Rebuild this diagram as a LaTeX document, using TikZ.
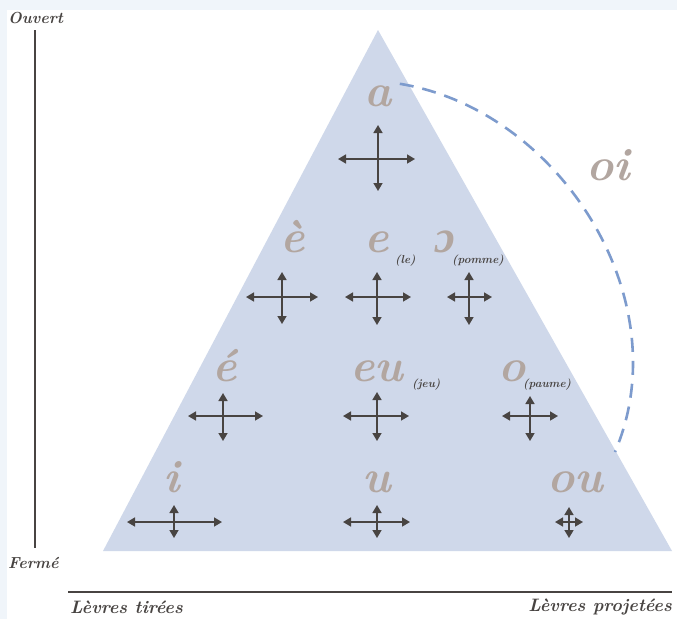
\documentclass[tikz,border=0pt]{standalone}
\usepackage{fontspec}
\newfontfamily\ipafont{Liberation Serif}
\usepackage{tikz}
\usetikzlibrary{arrows.meta,positioning}

\definecolor{framecol}{RGB}{240,245,250}
\definecolor{trifill}{RGB}{207,216,234}
\definecolor{vowelcol}{RGB}{178,166,160}
\definecolor{inkcol}{RGB}{72,68,66}
\definecolor{dashcol}{RGB}{125,155,205}

\begin{document}
\begin{tikzpicture}[x=1pt, y=-1pt,
    vowel/.style={font=\fontsize{46}{46}\selectfont\bfseries\itshape, text=vowelcol, inner sep=0pt, anchor=base},
    example/.style={font=\fontsize{11.5}{11.5}\selectfont\bfseries\itshape, text=inkcol, inner sep=0pt, anchor=base west},
    axislabel/.style={font=\fontsize{16}{16}\selectfont\bfseries\itshape, text=inkcol, inner sep=0pt},
    lipslabel/.style={axislabel, font=\fontsize{18}{18}\selectfont\bfseries\itshape},
    lips/.style={{Triangle[width=9pt,length=8pt]}-{Triangle[width=9pt,length=8pt]}, draw=inkcol, line width=1.6pt}]

% Frame
\useasboundingbox (0,0) rectangle (677,619);
\fill[framecol] (0,0) rectangle (677,619);
\fill[white] (7,10) rectangle (677,619);

% Triangle
\fill[trifill] (378,30) -- (672,551) -- (103,551) -- cycle;

% Axes
\draw[inkcol, line width=2.2pt] (35,30) -- (35,548);
\draw[inkcol, line width=2.6pt] (68,592) -- (672,592);
\node[axislabel, anchor=west] (open) at (8,18) {Ouvert};
\node[axislabel, anchor=west] (closed) at (8,563) {Fermé};
\node[lipslabel, anchor=west] (spread) at (70,607) {Lèvres tirées};
\node[lipslabel, anchor=east] (round) at (672,607) {Lèvres projetées};

% Vowels
\node[vowel] (va) at (378,106) {a};
\node[vowel] (vegrave) at (293,252) {è};
\node[vowel] (ve) at (377,252) {e};
\node[vowel] (vopen) at (445,252) {\ipafont\bfseries\itshape ɔ};
\node[vowel] (veacute) at (225,381) {é};
\node[vowel] (veu) at (377,381) {eu};
\node[vowel] (vo) at (512,381) {o};
\node[vowel] (vi) at (172,492) {i};
\node[vowel] (vu) at (377,492) {u};
\node[vowel] (vou) at (575,492) {ou};
\node[vowel] (voi) at (608,180) {oi};

% Examples
\node[example] (exle) at (395,263) {(le)};
\node[example] (expomme) at (452,263) {(pomme)};
\node[example] (exjeu) at (412,387) {(jeu)};
\node[example] (expaume) at (523,387) {(paume)};

% Lip crosses
\foreach \cx/\cy/\l/\r/\t/\b in {378/159/338/415/125/191, 282/297/246/318/272/324,
    377/297/345/411/272/325, 469/297/447/492/272/325, 223/416/188/263/393/441,
    377/416/343/409/392/441, 530/416/502/558/396/441, 174/522/127/222/505/538,
    377/522/343/410/505/538, 569/522/555/583/507/538} {
    \draw[lips] (\l,\cy) -- (\r,\cy);
    \draw[lips] (\cx,\t) -- (\cx,\b);
}

% Diphthong path
\coordinate (oiend) at (615,452);
\draw[dashcol, line width=2.6pt, dash pattern=on 14pt off 9pt]
    (va.east) ++(8,-12) .. controls (560,110) and (680,300) .. (oiend);

\end{tikzpicture}
\end{document}
